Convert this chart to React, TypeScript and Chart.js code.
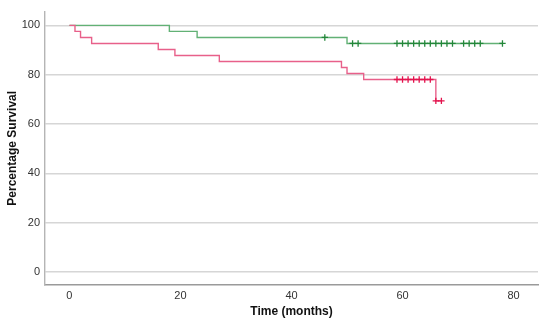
import React, { useEffect, useRef } from "react";
import { Chart, registerables } from "chart.js";

Chart.register(...registerables);

// Kaplan-Meier step curves (time in months, survival %)
const greenTimes = [0, 18, 23, 50, 78];
const greenSurvival = [100, 97.56, 95.12, 92.68, 92.68];
const greenCensorTimes = [46, 51, 52, 59, 60, 61, 62, 63, 64, 65, 66, 67, 68, 69, 71, 72, 73, 74, 78];
const greenCensorSurvival = [95.12, 92.68, 92.68, 92.68, 92.68, 92.68, 92.68, 92.68, 92.68, 92.68, 92.68, 92.68, 92.68, 92.68, 92.68, 92.68, 92.68, 92.68, 92.68];

const redTimes = [0, 1, 2, 4, 16, 19, 27, 49, 50, 53, 66, 67];
const redSurvival = [100, 97.56, 95.12, 92.68, 90.24, 87.8, 85.37, 82.93, 80.49, 78.05, 69.38, 69.38];
const redCensorTimes = [59, 60, 61, 62, 63, 64, 65, 66, 67];
const redCensorSurvival = [78.05, 78.05, 78.05, 78.05, 78.05, 78.05, 78.05, 69.38, 69.38];

const xTicks = [0, 20, 40, 60, 80];
const yTicks = [0, 20, 40, 60, 80, 100];

const zip = (xs: number[], ys: number[]) => xs.map((x, i) => ({ x, y: ys[i] }));

export default function App() {
  const ref = useRef<HTMLCanvasElement | null>(null);
  useEffect(() => {
    document.body.style.margin = "0";
    const ctx = ref.current!.getContext("2d")!;
    const chart = new Chart(ctx, {
      type: "line",
      data: {
        datasets: [
          {
            label: "red censored",
            data: zip(redCensorTimes, redCensorSurvival),
            showLine: false,
            pointStyle: "cross",
            pointRadius: 3.2,
            pointBorderWidth: 1.3,
            pointBorderColor: "#e3134d",
            pointBackgroundColor: "#e3134d",
            order: 0,
          },
          {
            label: "green censored",
            data: zip(greenCensorTimes, greenCensorSurvival),
            showLine: false,
            pointStyle: "cross",
            pointRadius: 3.2,
            pointBorderWidth: 1.3,
            pointBorderColor: "#23873a",
            pointBackgroundColor: "#23873a",
            order: 1,
          },
          {
            label: "red",
            data: zip(redTimes, redSurvival),
            stepped: "before",
            borderColor: "#e8608a",
            borderWidth: 1.4,
            pointRadius: 0,
            fill: false,
            order: 2,
          },
          {
            label: "green",
            data: zip(greenTimes, greenSurvival),
            stepped: "before",
            borderColor: "#62b175",
            borderWidth: 1.4,
            pointRadius: 0,
            fill: false,
            order: 3,
          },
        ],
      },
      options: {
        animation: false,
        responsive: false,
        maintainAspectRatio: false,
        layout: { padding: { top: 8, right: 12, left: 0, bottom: 0 } },
        plugins: { legend: { display: false }, tooltip: { enabled: false } },
        scales: {
          x: {
            type: "linear",
            min: -4.4,
            max: 84.4,
            afterBuildTicks: (s: any) => {
              s.ticks = xTicks.map((v) => ({ value: v }));
            },
            afterFit: (s: any) => {
              s.height = 40;
            },
            grid: { display: false, drawTicks: false },
            border: { display: true, color: "#9a9a9a", width: 1.6 },
            ticks: {
              padding: 4,
              color: "#333",
              font: { family: "Liberation Sans", size: 11 },
            },
            title: {
              display: true,
              text: "Time (months)",
              color: "#111",
              padding: { top: 0, bottom: 6 },
              font: { family: "Liberation Sans", size: 12, weight: "bold" },
            },
          },
          y: {
            type: "linear",
            min: -5.3,
            max: 105.6,
            afterBuildTicks: (s: any) => {
              s.ticks = yTicks.map((v) => ({ value: v }));
            },
            afterFit: (s: any) => {
              s.width = 45;
            },
            grid: { display: true, drawTicks: false, color: "#d6d6d6", lineWidth: 1.5 },
            border: { display: true, color: "#b5b5b5", width: 1.4 },
            ticks: {
              padding: 5,
              color: "#333",
              font: { family: "Liberation Sans", size: 11 },
            },
            title: {
              display: true,
              text: "Percentage Survival",
              color: "#111",
              padding: { top: 5, bottom: 0 },
              font: { family: "Liberation Sans", size: 12, weight: "bold" },
            },
          },
        },
      },
    } as any);
    return () => chart.destroy();
  }, []);
  return (
    <div style={{ width: 550, height: 325 }}>
      <canvas ref={ref} width={550} height={325} style={{ display: "block" }} />
    </div>
  );
}
